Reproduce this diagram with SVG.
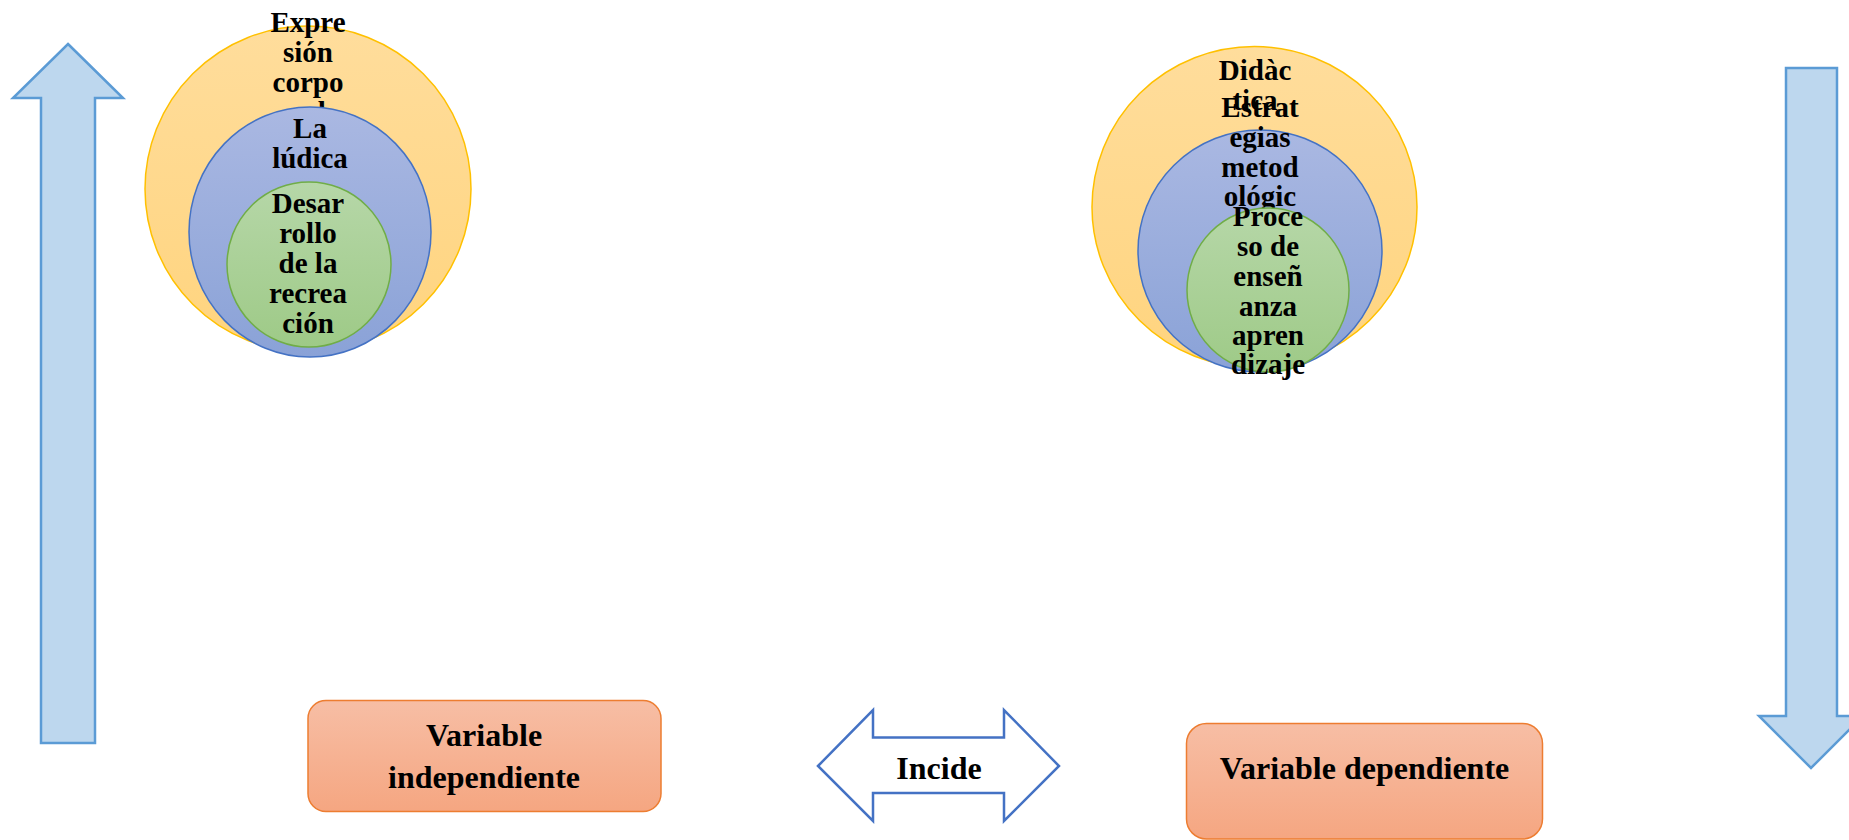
<svg xmlns="http://www.w3.org/2000/svg" width="1849" height="840" viewBox="0 0 1849 840">
<defs>
<linearGradient id="gOr" x1="0" y1="0" x2="0" y2="1"><stop offset="0" stop-color="#FFDD9C"/><stop offset="1" stop-color="#FFD47E"/></linearGradient>
<linearGradient id="gBl" x1="0" y1="0" x2="0" y2="1"><stop offset="0" stop-color="#AAB8E2"/><stop offset="1" stop-color="#8AA2D7"/></linearGradient>
<linearGradient id="gGr" x1="0" y1="0" x2="0" y2="1"><stop offset="0" stop-color="#B6D7A8"/><stop offset="1" stop-color="#9ECA87"/></linearGradient>
<linearGradient id="gBox" x1="0" y1="0" x2="0" y2="1"><stop offset="0" stop-color="#F7BEA5"/><stop offset="1" stop-color="#F5A681"/></linearGradient>
<style>
.t{font-family:"Liberation Serif","Times New Roman",serif;font-weight:bold;fill:#000;text-anchor:middle}
.c{font-size:29px}
.b{font-size:32px}
.or{fill:url(#gOr);stroke:#FFC000;stroke-width:1.5}
.bl{fill:url(#gBl);stroke:#4472C4;stroke-width:1.5}
.gr{fill:url(#gGr);stroke:#70AD47;stroke-width:1.5}
.box{fill:url(#gBox);stroke:#ED7D31;stroke-width:1.5}
.arr{fill:#BDD7EE;stroke:#5B9BD5;stroke-width:2.5;stroke-linejoin:miter}
.dbl{fill:#fff;stroke:#4472C4;stroke-width:2.5}
</style>
</defs>

<g id="connectors">
<path id="arrow-up" class="arr" d="M68,44 L123,98 L95,98 L95,743 L41,743 L41,98 L13,98 Z"/>
<path id="arrow-down" class="arr" d="M1786,68 L1837,68 L1837,716 L1863,716 L1811,768 L1759,716 L1786,716 Z"/>
</g>

<g id="left-circles">
<circle class="or" cx="308" cy="189" r="163"/>
<text class="t c"><tspan x="308" y="32">Expre</tspan><tspan x="308" y="62">sión</tspan><tspan x="308" y="92">corpo</tspan><tspan x="308" y="122">ral</tspan></text>
<ellipse class="bl" cx="310" cy="232" rx="121" ry="125"/>
<text class="t c"><tspan x="310" y="138">La</tspan><tspan x="310" y="168">lúdica</tspan></text>
<ellipse class="gr" cx="309" cy="264.5" rx="82" ry="82.5"/>
<text class="t c"><tspan x="308" y="213">Desar</tspan><tspan x="308" y="243">rollo</tspan><tspan x="308" y="273">de la</tspan><tspan x="308" y="303">recrea</tspan><tspan x="308" y="333">ción</tspan></text>
</g>

<g id="right-circles">
<ellipse class="or" cx="1254.5" cy="207" rx="162.5" ry="160.5"/>
<text class="t c"><tspan x="1255" y="80">Didàc</tspan><tspan x="1255" y="110">tica</tspan></text>
<ellipse class="bl" cx="1260" cy="251" rx="122" ry="121"/>
<text class="t c"><tspan x="1260" y="117">Estrat</tspan><tspan x="1260" y="147">egias</tspan><tspan x="1260" y="177">metod</tspan><tspan x="1260" y="206">ológic</tspan></text>
<ellipse class="gr" cx="1268" cy="290" rx="81" ry="82"/>
<text class="t c"><tspan x="1268" y="226">Proce</tspan><tspan x="1268" y="256">so de</tspan><tspan x="1268" y="286">enseñ</tspan><tspan x="1268" y="316">anza</tspan><tspan x="1268" y="345">apren</tspan><tspan x="1268" y="374">dizaje</tspan></text>
</g>

<g id="box-independiente">
<rect class="box" x="308" y="700.5" width="353" height="111" rx="18"/>
<text class="t b"><tspan x="484" y="746">Variable</tspan><tspan x="484" y="788">independiente</tspan></text>
</g>

<g id="incide">
<path class="dbl" d="M818,766 L873,710 L873,737.5 L1004,737.5 L1004,710 L1059,766 L1004,821 L1004,793 L873,793 L873,821 Z"/>
<text class="t b" x="939" y="779">Incide</text>
</g>

<g id="box-dependiente">
<rect class="box" x="1186.5" y="723.5" width="356" height="115.5" rx="20"/>
<text class="t b" x="1364.5" y="779">Variable dependiente</text>
</g>
</svg>
